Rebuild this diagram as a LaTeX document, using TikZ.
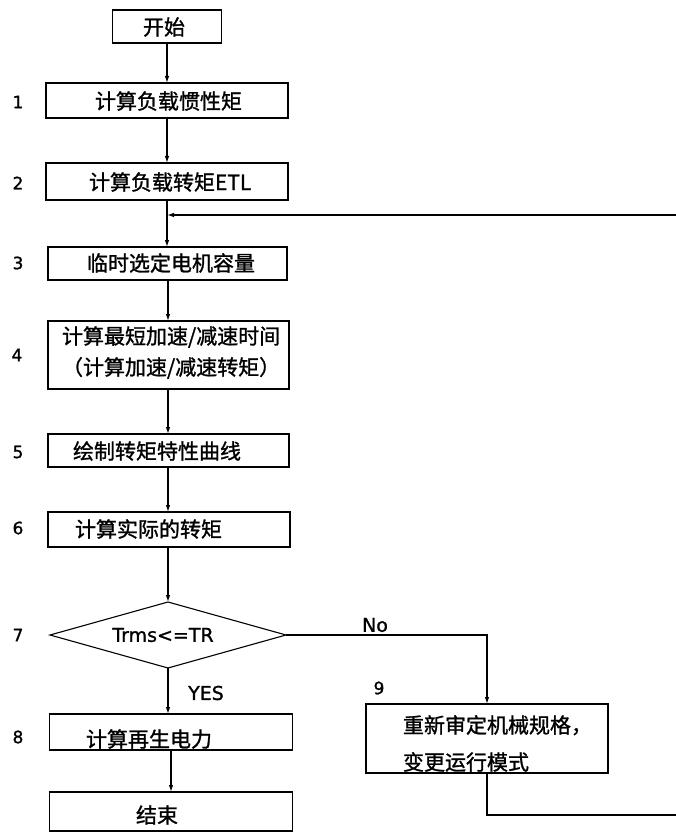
\documentclass[tikz,border=0pt]{standalone}
\usepackage{fontspec}
\setmainfont{Noto Sans CJK SC}[FakeBold=1.2]
\newfontfamily\numfont{DejaVu Sans}[FakeBold=1.2]
\usetikzlibrary{shapes.geometric,arrows.meta}
\begin{document}
\begin{tikzpicture}[x=1pt,y=-1pt,
  every node/.style={inner sep=0pt, outer sep=0pt},
  box/.style={draw, line width=1.1pt, rectangle},
  dia/.style={draw, line width=1.1pt, diamond},
  cjk/.style={font=\fontsize{21}{25}\selectfont, anchor=west},
  num/.style={font=\numfont\fontsize{17}{19}\selectfont},
  lat/.style={font=\numfont\fontsize{19}{21}\selectfont},
  conn/.style={line width=1.2pt},
  arr/.style={conn, -{Latex[length=7pt,width=4.5pt]}}]
\useasboundingbox (0,0) rectangle (675,834);
\fill[white] (0,0) rectangle (675,834);
% boxes
\node[box, minimum width=109pt, minimum height=33pt] (b0) at (167,26.5) {};
\node[box, minimum width=242pt, minimum height=35pt] (b1) at (167,100.5) {};
\node[box, minimum width=242pt, minimum height=37pt] (b2) at (167,181.5) {};
\node[box, minimum width=239pt, minimum height=33pt] (b3) at (167.5,263.5) {};
\node[box, minimum width=241pt, minimum height=68pt] (b4) at (168.5,355) {};
\node[box, minimum width=241pt, minimum height=33pt] (b5) at (168.5,450.5) {};
\node[box, minimum width=242pt, minimum height=35pt] (b6) at (169,529.5) {};
\node[dia, minimum width=236pt, minimum height=66pt] (d) at (168,635) {};
\node[box, minimum width=243pt, minimum height=36pt] (b8) at (171,732) {};
\node[box, minimum width=243pt, minimum height=39pt] (b10) at (171,811.5) {};
\node[box, minimum width=242pt, minimum height=69pt] (b9) at (487,738.5) {};
% texts
\node[font=\fontsize{21}{25}\selectfont] (t0) at (164,27) {开始};
\node[cjk] (t1) at (95,101) {计算负载惯性矩};
\node[cjk] (t2) at (89,182) {计算负载转矩ETL};
\node[cjk] (t3) at (87,263) {临时选定电机容量};
\node[cjk, align=left, font=\fontsize{21}{31}\selectfont] (t4) at (62,352.5) {计算最短加速/减速时间\\（计算加速/减速转矩）};
\node[cjk] (t5) at (73,451) {绘制转矩特性曲线};
\node[cjk] (t6) at (75,529) {计算实际的转矩};
\node[lat] (t7) at (163,635) {Trms<=TR};
\node[cjk] (t8) at (86,739) {计算再生电力};
\node[font=\fontsize{21}{25}\selectfont] (t10) at (157,815) {结束};
\node[cjk, align=left, font=\fontsize{21}{37}\selectfont] (t9) at (403,743.5) {重新审定机械规格，\\变更运行模式};
\node[lat] (yes) at (206,693) {YES};
\node[lat] (no) at (375,625) {No};
% numbers
\node[num] (n1) at (18,102) {1};
\node[num] (n2) at (18,183) {2};
\node[num] (n3) at (18,263) {3};
\node[num] (n4) at (17,355) {4};
\node[num] (n5) at (18,452) {5};
\node[num] (n6) at (18,528) {6};
\node[num] (n7) at (18,635) {7};
\node[num] (n8) at (18,737) {8};
\node[num] (n9) at (379,688) {9};
% connectors
\coordinate (j) at (167,215);
\coordinate (a3) at (168,280);
\coordinate (a4t) at (168,321);
\coordinate (a4b) at (168,389);
\coordinate (a5t) at (168,434);
\coordinate (a5b) at (168,467);
\coordinate (a6t) at (168,512);
\coordinate (a6b) at (168,547);
\coordinate (c1) at (487,635);
\coordinate (c2) at (487,815);
\coordinate (c3) at (690,815);
\coordinate (c4) at (690,215);
\draw[arr] (b0.south) -- (b0.south |- b1.north);
\draw[arr] (b1.south) -- (b1.south |- b2.north);
\draw[arr] (b2.south) -- (b2.south |- b3.north);
\draw[arr] (a3) -- (a4t);
\draw[arr] (a4b) -- (a5t);
\draw[arr] (a5b) -- (a6t);
\draw[arr] (a6b) -- (d.north);
\draw[arr] (d.south) -- (d.south |- b8.north);
\draw[arr] (b8.south) -- (b10.north);
\draw[arr] (d.east) -- (c1) -- (b9.north);
\draw[arr] (b9.south) -- (c2) -- (c3) -- (c4) -- (j);
\end{tikzpicture}
\end{document}
